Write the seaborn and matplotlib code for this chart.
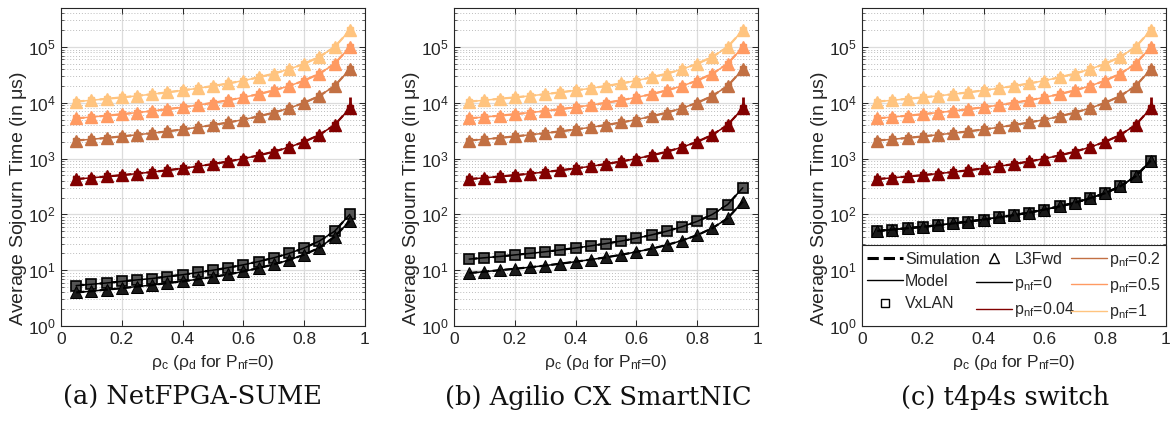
import matplotlib
matplotlib.use("Agg")
import matplotlib.pyplot as plt
import seaborn as sns
import numpy as np
from matplotlib.lines import Line2D
from matplotlib.ticker import LogLocator, NullFormatter, FixedLocator

# ---------------- data ----------------
rho = [0.05, 0.10, 0.15, 0.20, 0.25, 0.30, 0.35, 0.40, 0.45, 0.50,
       0.55, 0.60, 0.65, 0.70, 0.75, 0.80, 0.85, 0.90, 0.95]

pnf_1 = [10500, 11100, 11800, 12500, 13300, 14300, 15400, 16700, 18200, 20000,
         22200, 25000, 28600, 33300, 40000, 50000, 66700, 100000, 200000]
pnf_05 = [5260, 5560, 5880, 6250, 6670, 7140, 7690, 8330, 9090, 10000,
          11100, 12500, 14300, 16700, 20000, 25000, 33300, 50000, 100000]
pnf_02 = [2110, 2220, 2350, 2500, 2670, 2860, 3080, 3330, 3640, 4000,
          4440, 5000, 5710, 6670, 8000, 10000, 13300, 20000, 40000]
pnf_004 = [430, 452, 478, 505, 538, 575, 618, 668, 727, 800,
           889, 1000, 1140, 1330, 1600, 2000, 2670, 4000, 8000]

a_vxlan = [5.3, 5.6, 5.9, 6.3, 6.7, 7.1, 7.7, 8.3, 9.1, 10.0,
           11.1, 12.5, 14.3, 16.7, 20.0, 25.0, 33.3, 50.0, 100.0]
a_l3fwd = [4.0, 4.2, 4.5, 4.75, 5.1, 5.4, 5.9, 6.3, 6.9, 7.6,
           8.4, 9.5, 10.9, 12.7, 15.2, 19.0, 25.3, 40.0, 76.0]
b_vxlan = [15.8, 16.7, 17.6, 18.8, 20.0, 21.4, 23.1, 25.0, 27.3, 30.0,
           33.3, 37.5, 42.9, 50.0, 60.0, 75.0, 100.0, 150.0, 300.0]
b_l3fwd = [8.9, 9.4, 10.0, 10.6, 11.3, 12.1, 13.1, 14.2, 15.5, 17.0,
           18.9, 21.3, 24.3, 28.3, 34.0, 42.5, 56.7, 85.0, 170.0]
c_pnf0 = [50.5, 53.5, 56.5, 60.0, 64.0, 69.0, 74.5, 81.0, 88.5, 97,
          108, 122, 139, 162, 195, 240, 320, 480, 920]

# simulation error at the last load point, per p_nf series
err_last = {"0.04": 4500, "0.2": 7000, "0.5": 9000, "1": 15000}

pnf_labels = ["0", "0.04", "0.2", "0.5", "1"]
colors = {"0": "#000000", "0.04": "#820000", "0.2": "#C27043",
          "0.5": "#FF9A62", "1": "#FFC47F"}
colored = {"0.04": pnf_004, "0.2": pnf_02, "0.5": pnf_05, "1": pnf_1}

panels = [
    {"vx": a_vxlan, "l3": a_l3fwd, "cap": "(a) NetFPGA-SUME", "capx": 192},
    {"vx": b_vxlan, "l3": b_l3fwd, "cap": "(b) Agilio CX SmartNIC", "capx": 598},
    {"vx": c_pnf0, "l3": c_pnf0, "cap": "(c) t4p4s switch", "capx": 1005},
]

x_ticks = [0, 0.2, 0.4, 0.6, 0.8, 1]
x_tick_labels = ["0", "0.2", "0.4", "0.6", "0.8", "1"]
y_ticks = [1, 10, 100, 1e3, 1e4, 1e5]

# ---------------- style ----------------
sns.set_style("ticks")
plt.rcParams["font.family"] = ["Liberation Sans", "DejaVu Sans"]
plt.rcParams["mathtext.fontset"] = "custom"
plt.rcParams["mathtext.rm"] = "Liberation Sans"
plt.rcParams["mathtext.it"] = "Liberation Serif:italic"
plt.rcParams["mathtext.default"] = "regular"

W, H = 1173, 421
fig = plt.figure(figsize=(W / 100, H / 100), dpi=100)
lefts = [61, 454, 862]
ax_w, ax_b, ax_t = 304, 326, 8
TXT = "#262626"


def draw_series(ax, vals, color, fill, err=None):
    sns.lineplot(x=rho, y=vals, ax=ax, color=color, lw=1.6, linestyle="--",
                 marker="s", markersize=5, markerfacecolor=fill,
                 markeredgecolor=color, markeredgewidth=1.0, legend=False)
    sns.lineplot(x=rho, y=vals, ax=ax, color=color, lw=1.1, linestyle="-",
                 marker="^", markersize=8, markerfacecolor=fill,
                 markeredgecolor=color, markeredgewidth=1.0, legend=False)
    if err:
        ax.errorbar([rho[-1]], [vals[-1]], yerr=[[err * 0.4], [err]],
                    color=color, lw=2.0, capsize=0, fmt="none")


axes = []
for i, p in enumerate(panels):
    ax = fig.add_axes([lefts[i] / W, (H - ax_b) / H, ax_w / W, (ax_b - ax_t) / H])
    axes.append(ax)
    ax.set_yscale("log")
    for key in ["1", "0.5", "0.2", "0.04"]:
        draw_series(ax, colored[key], colors[key], colors[key], err_last[key])
    # black series (p_nf = 0): VxLAN squares, L3Fwd triangles
    sns.lineplot(x=rho, y=p["vx"], ax=ax, color="#000000", lw=1.6, linestyle="--",
                 marker="s", markersize=6.5, markerfacecolor="#555555",
                 markeredgecolor="#000000", markeredgewidth=1.2, legend=False)
    sns.lineplot(x=rho, y=p["vx"], ax=ax, color="#000000", lw=1.1, linestyle="-",
                 legend=False)
    sns.lineplot(x=rho, y=p["l3"], ax=ax, color="#000000", lw=1.1, linestyle="-",
                 marker="^", markersize=8, markerfacecolor="#1a1a1a",
                 markeredgecolor="#000000", legend=False)
    sns.lineplot(x=rho, y=p["l3"], ax=ax, color="#000000", lw=1.6, linestyle="--",
                 legend=False)

    ax.set_xlim(0, 1)
    ax.set_ylim(1, 5e5)
    ax.xaxis.set_major_locator(FixedLocator(x_ticks))
    ax.set_xticklabels(x_tick_labels)
    ax.yaxis.set_major_locator(FixedLocator(y_ticks))
    ax.yaxis.set_minor_locator(LogLocator(base=10, subs=np.arange(2, 10), numticks=20))
    ax.yaxis.set_minor_formatter(NullFormatter())
    ax.grid(which="major", color="#dcdcdc", lw=0.9, ls="-")
    ax.grid(which="minor", axis="y", color="#bdbdbd", lw=0.7, ls=(0, (1, 2)))
    ax.set_axisbelow(True)
    ax.tick_params(which="both", direction="in", top=True, right=True,
                   labelsize=12.5, colors=TXT, pad=4)
    ax.tick_params(which="major", length=4, width=0.7)
    ax.tick_params(which="minor", length=2, width=0.5)
    for s in ax.spines.values():
        s.set_color(TXT)
        s.set_linewidth(0.8)
    ax.set_ylabel(r"Average Sojourn Time (in $\mu$s)", fontsize=14,
                  color=TXT)
    ax.yaxis.set_label_coords(-0.105, 0.40)
    ax.set_xlabel(r"$\rho_{\rm c}$ ($\rho_{\rm d}$ for P$_{\rm nf}$=0)",
                  fontsize=12.5, color=TXT, labelpad=5)
    fig.text(p["capx"] / W, (H - 397) / H, p["cap"], ha="center", va="center",
             fontsize=18.5, family="DejaVu Serif", color="#111111")

# legend in panel (c)
handles = [
    Line2D([], [], color="k", ls="--", lw=2.2),
    Line2D([], [], color="k", ls="-", lw=1.0),
    Line2D([], [], color="k", ls="none", marker="s", mfc="none", ms=6, mew=1.0),
    Line2D([], [], color="k", ls="none", marker="^", mfc="none", ms=7, mew=1.0),
] + [Line2D([], [], color=colors[k], lw=1.0) for k in pnf_labels]
labels = ["Simulation", "Model", "VxLAN", "L3Fwd"] + \
         [r"p$_{\rm nf}$=" + k for k in pnf_labels]
leg = axes[2].legend(handles, labels, ncol=3, mode="expand", loc="lower left",
                     bbox_to_anchor=(0, 0, 1, 0.25), borderaxespad=0,
                     fontsize=11.5, handlelength=2.25, handletextpad=0.15,
                     columnspacing=0.3, labelspacing=0.45, borderpad=0.3,
                     frameon=True, fancybox=False, framealpha=1)
leg.get_frame().set_edgecolor(TXT)
leg.get_frame().set_linewidth(0.8)

fig.savefig("out.png", dpi=100)
